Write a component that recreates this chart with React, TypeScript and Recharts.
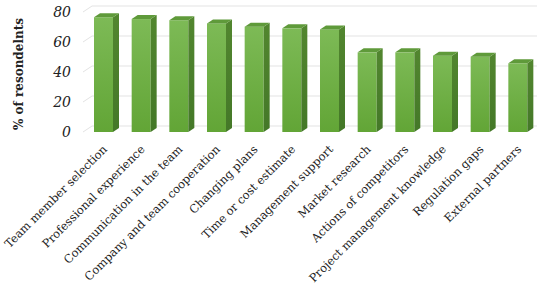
import React from 'react';
import { BarChart, Bar, XAxis, YAxis, CartesianGrid } from 'recharts';

const categories = [
  'Team member selection',
  'Professional experience',
  'Communication in the team',
  'Company and team cooperation',
  'Changing plans',
  'Time or cost estimate',
  'Management support',
  'Market research',
  'Actions of competitors',
  'Project management knowledge',
  'Regulation gaps',
  'External partners',
];
const values = [76.5, 75.3, 74.5, 72.4, 70.2, 69.1, 68.4, 53.1, 53.1, 50.9, 50.2, 45.8];
const yTicks = [0, 20, 40, 60, 80];

const data = categories.map((name, i) => ({ name, value: values[i] }));

const DX = 6;
const DY = 4;

const Bar3D = (props: any) => {
  const { x, y, width, height } = props;
  if (width == null || height == null) return null;
  return (
    <g>
      <rect x={x} y={y} width={width} height={height} fill="url(#frontGrad)" />
      <path
        d={`M${x + width},${y} L${x + width + DX},${y - DY} L${x + width + DX},${y + height - DY} L${x + width},${y + height} Z`}
        fill="url(#sideGrad)"
      />
      <path
        d={`M${x},${y} L${x + DX},${y - DY} L${x + width + DX},${y - DY} L${x + width},${y} Z`}
        fill="#5f9a3a"
      />
    </g>
  );
};

const XTick = (props: any) => {
  const { x, y, payload } = props;
  return (
    <text
      x={x + 4}
      y={y + 10}
      transform={`rotate(-45, ${x + 4}, ${y + 10})`}
      textAnchor="end"
      fontFamily="DejaVu Serif"
      fontSize={11.5}
      fill="#222"
    >
      {payload.value}
    </text>
  );
};

const YTick = (props: any) => {
  const { x, y, payload } = props;
  return (
    <text
      x={x - 6}
      y={y}
      dy={5}
      textAnchor="end"
      fontFamily="DejaVu Serif"
      fontStyle="italic"
      fontSize={14}
      fill="#222"
    >
      {payload.value}
    </text>
  );
};

const GridLine = (props: any) => {
  const { x1, y1, x2, y2, index } = props;
  return (
    <path
      key={`gl-${index}`}
      d={`M${x1 - 2},${y1} L${x1 + 7},${y1 - 6} L${x2},${y2 - 6}`}
      stroke="#e3e3e3"
      strokeWidth={1}
      fill="none"
    />
  );
};

export default function App() {
  return (
    <div style={{ position: 'absolute', left: 0, top: 0, width: 550, height: 285, background: '#fff' }}>
      <BarChart
        width={550}
        height={285}
        data={data}
        margin={{ top: 12, right: 13, bottom: 0, left: 0 }}
        barSize={19}
      >
        <defs>
          <linearGradient id="frontGrad" x1="0" y1="0" x2="0" y2="1">
            <stop offset="0%" stopColor="#7dba56" />
            <stop offset="100%" stopColor="#62a536" />
          </linearGradient>
          <linearGradient id="sideGrad" x1="0" y1="0" x2="0" y2="1">
            <stop offset="0%" stopColor="#52862f" />
            <stop offset="100%" stopColor="#447828" />
          </linearGradient>
        </defs>
        <CartesianGrid vertical={false} horizontal={GridLine as any} />
        <XAxis
          dataKey="name"
          interval={0}
          height={153}
          axisLine={false}
          tickLine={false}
          tick={<XTick />}
        />
        <YAxis
          domain={[0, 80]}
          ticks={yTicks}
          width={85}
          axisLine={false}
          tickLine={false}
          tick={<YTick />}
          label={{
            value: '% of resondelnts',
            angle: -90,
            position: 'insideLeft',
            dx: 14,
            dy: 58,
            style: { fontFamily: 'DejaVu Serif', fontWeight: 'bold', fontSize: 12, fill: '#222' },
          }}
        />
        <Bar dataKey="value" shape={<Bar3D />} isAnimationActive={false} />
      </BarChart>
    </div>
  );
}
